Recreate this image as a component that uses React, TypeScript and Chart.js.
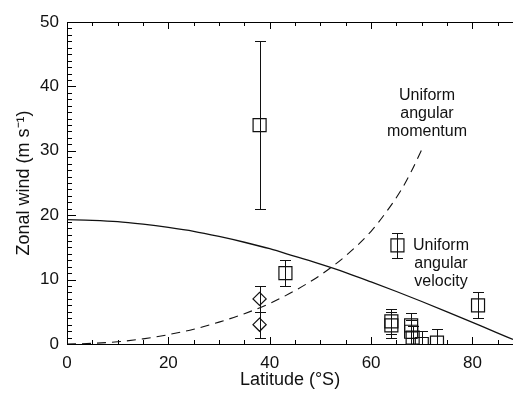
import { useEffect, useRef } from "react";
import { Chart, registerables } from "chart.js";

Chart.register(...registerables);

// Axis ticks
const latitudeTicks = [0, 20, 40, 60, 80];
const windTicks = [0, 10, 20, 30, 40, 50];

// Square observations (latitude °S, zonal wind m/s, error low, error high)
const squareLat = [38.0, 43.1, 65.2, 81.1, 64.0, 64.0, 67.9, 67.9, 68.2, 70.0, 73.0];
const squareWind = [34.0, 11.0, 15.3, 6.0, 3.5, 2.9, 2.9, 1.9, 1.0, 0.0, 0.2];
const squareLow = [21.0, 9.0, 13.3, 4.0, 1.5, 0.9, 1.0, 0.0, -0.8, -2.0, -2.0];
const squareHigh = [47.0, 13.0, 17.3, 8.0, 5.5, 4.9, 4.8, 3.8, 2.8, 2.0, 2.4];

// Diamond observations
const diamondLat = [38.0, 38.0];
const diamondWind = [7.0, 3.0];
const diamondLow = [5.0, 1.0];
const diamondHigh = [9.0, 5.0];

// Uniform angular velocity curve (solid)
const velocityLat = [0, 5, 10, 15, 20, 25, 30, 35, 40, 45, 50, 55, 60, 65, 70, 75, 80, 85, 88];
const velocityWind = [19.3, 19.2, 19.0, 18.6, 18.1, 17.5, 16.7, 15.8, 14.8, 13.6, 12.4, 11.1, 9.65, 8.15, 6.6, 5.0, 3.35, 1.7, 0.7];

// Uniform angular momentum curve (dashed)
const momentumLat = [0, 5, 10, 15, 20, 25, 30, 35, 40, 45, 50, 55, 60, 63, 66, 68, 70];
const momentumWind = [0, 0.1, 0.35, 0.8, 1.45, 2.3, 3.4, 4.7, 6.3, 8.3, 10.7, 13.7, 17.5, 20.5, 24.0, 26.9, 30.2];

// Minor tick steps
const latMinorStep = 5;
const latMajorStep = 20;
const windMinorStep = 1;
const windMajorStep = 10;

const FONT = "'Liberation Sans', Arial, Helvetica, sans-serif";

const toPoints = (xs: number[], ys: number[]) => xs.map((x, i) => ({ x, y: ys[i] }));

const decorPlugin = {
  id: "decor",
  beforeDatasetsDraw(chart: any) {
    const { ctx, chartArea, scales } = chart;
    const xs = scales.x;
    const ys = scales.y;

    // top frame line and inward ticks
    ctx.save();
    ctx.fillStyle = "#000";
    const top = Math.round(chartArea.top);
    const bot = Math.round(chartArea.bottom);
    const lft = Math.round(chartArea.left);
    ctx.fillRect(lft, top, Math.ceil(chartArea.right) - lft, 1);
    for (let v = 0; v <= 88; v += latMinorStep) {
      const px = Math.round(xs.getPixelForValue(v));
      const len = v % latMajorStep === 0 ? 7 : 4;
      ctx.fillRect(px, bot - len, 1, len);
      ctx.fillRect(px, top, 1, len);
    }
    for (let v = 0; v <= 50; v += windMinorStep) {
      const py = Math.round(ys.getPixelForValue(v));
      const len = v % windMajorStep === 0 ? 9 : 5;
      ctx.fillRect(lft, py, len, 1);
    }
    ctx.restore();

    // error bars (values clamped to the axis range)
    ctx.save();
    ctx.fillStyle = "#111";
    const drawBars = (lat: number[], lo: number[], hi: number[]) => {
      lat.forEach((l, i) => {
        const px = Math.round(xs.getPixelForValue(l));
        const loC = Math.max(lo[i], ys.min);
        const hiC = Math.min(hi[i], ys.max);
        const y1 = Math.round(ys.getPixelForValue(loC));
        const y2 = Math.round(ys.getPixelForValue(hiC));
        ctx.fillRect(px, y2, 1, y1 - y2);
        if (lo[i] >= ys.min) ctx.fillRect(px - 5, y1, 11, 1);
        if (hi[i] <= ys.max) ctx.fillRect(px - 5, y2, 11, 1);
      });
    };
    drawBars(squareLat, squareLow, squareHigh);
    drawBars(diamondLat, diamondLow, diamondHigh);
    ctx.restore();
  },
  afterDatasetsDraw(chart: any) {
    const { ctx } = chart;
    ctx.save();
    ctx.fillStyle = "#111";
    ctx.font = `16px ${FONT}`;
    ctx.textAlign = "center";
    ctx.textBaseline = "middle";
    ["Uniform", "angular", "momentum"].forEach((t, i) => ctx.fillText(t, 427, 96 + i * 18));
    ["Uniform", "angular", "velocity"].forEach((t, i) => ctx.fillText(t, 441, 246 + i * 18));
    ctx.restore();
  },
};

export default function App() {
  const ref = useRef<HTMLCanvasElement | null>(null);

  useEffect(() => {
    if (!ref.current) return;
    const chart = new Chart(ref.current, {
      type: "scatter",
      data: {
        datasets: [
          {
            label: "Uniform angular velocity",
            data: toPoints(velocityLat, velocityWind),
            showLine: true,
            borderColor: "#111",
            borderWidth: 1.3,
            pointRadius: 0,
            tension: 0.4,
            cubicInterpolationMode: "monotone",
            fill: false,
          },
          {
            label: "Uniform angular momentum",
            data: toPoints(momentumLat, momentumWind),
            showLine: true,
            borderColor: "#111",
            borderWidth: 1.1,
            borderDash: [9, 6],
            pointRadius: 0,
            tension: 0.4,
            cubicInterpolationMode: "monotone",
            fill: false,
          },
          {
            label: "Squares",
            data: toPoints(squareLat, squareWind),
            pointStyle: "rect",
            pointRadius: 9.2,
            pointBorderWidth: 1.2,
            borderColor: "#111",
            backgroundColor: "rgba(0,0,0,0)",
          },
          {
            label: "Diamonds",
            data: toPoints(diamondLat, diamondWind),
            pointStyle: "rectRot",
            pointRadius: 6.6,
            pointBorderWidth: 1.2,
            borderColor: "#111",
            backgroundColor: "rgba(0,0,0,0)",
          },
        ],
      },
      options: {
        responsive: false,
        animation: false,
        layout: { autoPadding: false, padding: { top: 22, right: 0, left: 0, bottom: 0 } },
        plugins: { legend: { display: false }, tooltip: { enabled: false } },
        scales: {
          x: {
            min: 0,
            max: 88,
            afterFit: (s: any) => { s.height = 50; },
            afterBuildTicks: (s: any) => { s.ticks = latitudeTicks.map((v) => ({ value: v })); },
            grid: { display: false, drawTicks: false },
            border: { display: true, color: "#000" },
            ticks: { color: "#111", padding: 9, font: { family: FONT, size: 17 }, maxRotation: 0 },
            title: { display: true, text: "Latitude (°S)", color: "#111", font: { family: FONT, size: 18 }, padding: { top: 0, bottom: 3 } },
          },
          y: {
            min: 0,
            max: 50,
            afterFit: (s: any) => { s.width = 67; },
            afterBuildTicks: (s: any) => { s.ticks = windTicks.map((v) => ({ value: v })); },
            grid: { display: false, drawTicks: false },
            border: { display: true, color: "#000" },
            ticks: { color: "#111", padding: 8, font: { family: FONT, size: 17 } },
            title: { display: true, text: "Zonal wind (m s⁻¹)", color: "#111", font: { family: FONT, size: 18 }, padding: { top: 13, bottom: 0 } },
          },
        },
      },
      plugins: [decorPlugin],
    });
    return () => chart.destroy();
  }, []);

  return (
    <div style={{ position: "absolute", left: 0, top: 0, width: 513, height: 394, background: "#fff" }}>
      <canvas ref={ref} width={513} height={394} style={{ display: "block" }} />
    </div>
  );
}
